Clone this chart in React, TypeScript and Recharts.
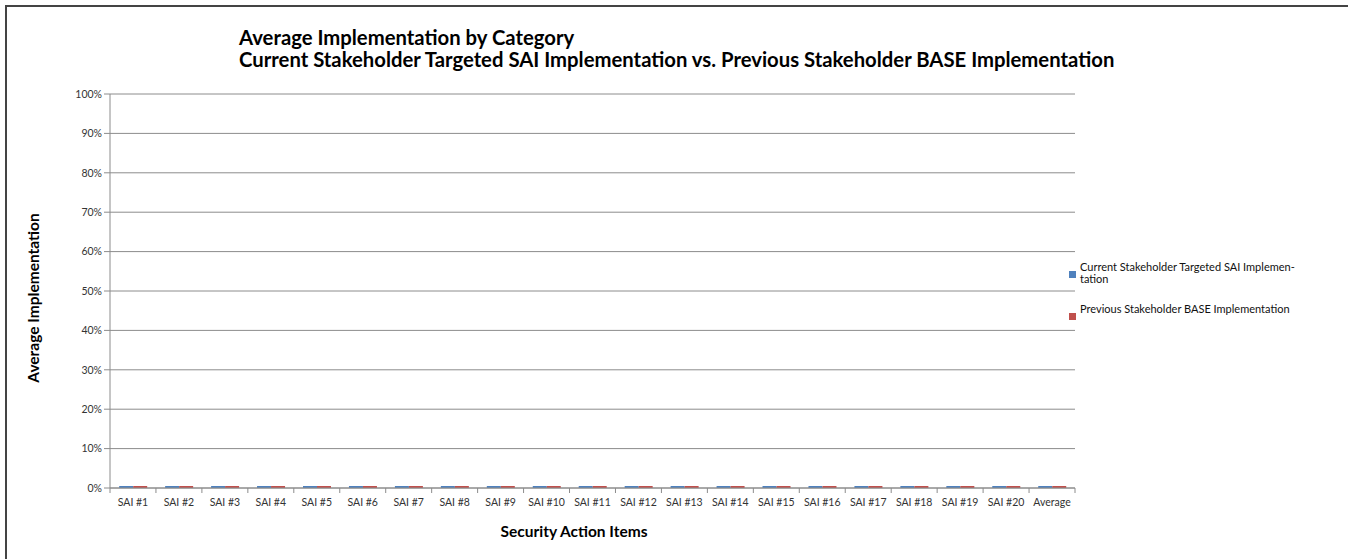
import { BarChart, Bar, XAxis, YAxis, CartesianGrid } from 'recharts';

const categories = [
  'SAI #1', 'SAI #2', 'SAI #3', 'SAI #4', 'SAI #5', 'SAI #6', 'SAI #7',
  'SAI #8', 'SAI #9', 'SAI #10', 'SAI #11', 'SAI #12', 'SAI #13', 'SAI #14',
  'SAI #15', 'SAI #16', 'SAI #17', 'SAI #18', 'SAI #19', 'SAI #20', 'Average',
];
const currentValues = [0, 0, 0, 0, 0, 0, 0, 0, 0, 0, 0, 0, 0, 0, 0, 0, 0, 0, 0, 0, 0];
const previousValues = [0, 0, 0, 0, 0, 0, 0, 0, 0, 0, 0, 0, 0, 0, 0, 0, 0, 0, 0, 0, 0];
const yTicks = [0, 0.1, 0.2, 0.3, 0.4, 0.5, 0.6, 0.7, 0.8, 0.9, 1];
const seriesNames = ['Current Stakeholder Targeted SAI Implementation', 'Previous Stakeholder BASE Implementation'];
const legendLabels = ['Current Stakeholder Targeted SAI Implemen\u00ADtation', 'Previous Stakeholder BASE Implementation'];
const seriesColors = ['#4f81bd', '#c0504d'];

const data = categories.map((name, i) => ({
  name,
  current: currentValues[i],
  previous: previousValues[i],
}));

const FONT = 'Lato, "Open Sans", sans-serif';
const GRID = '#8c8c8c';

function CategoryTick(props: any) {
  const { x, y, payload, index, visibleTicksCount, width } = props;
  const band = width && visibleTicksCount ? width / visibleTicksCount : 45.95;
  const left = x - band / 2;
  const right = x + band / 2;
  return (
    <g>
      <line x1={left} y1={y - 8} x2={left} y2={y - 3} stroke={GRID} />
      {index === visibleTicksCount - 1 && (
        <line x1={right} y1={y - 8} x2={right} y2={y - 3} stroke={GRID} />
      )}
      <text x={x} y={y + 10} textAnchor="middle" fontSize={10.5} fill="#333" fontFamily={FONT}>
        {payload.value}
      </text>
    </g>
  );
}

export default function App() {
  return (
    <div style={{ position: 'absolute', left: 0, top: 0, width: 1348, height: 559, fontFamily: FONT, background: '#fff' }}>
      <div style={{
        position: 'absolute', left: 5, top: 5, width: 1341, height: 560,
        borderTop: '2px solid #444', borderLeft: '2px solid #444', borderRight: '1px solid #aaa',
      }} />
      <div style={{ position: 'absolute', left: 0, top: 0 }}>
        <BarChart
          width={1348}
          height={559}
          data={data}
          margin={{ top: 94, right: 273, bottom: 41, left: 50 }}
          barCategoryGap="20%"
          barGap={0}
        >
          <CartesianGrid vertical={false} stroke={GRID} />
          <XAxis
            dataKey="name"
            axisLine={{ stroke: GRID }}
            tickLine={false}
            tick={<CategoryTick />}
            height={30}
            interval={0}
          />
          <YAxis
            width={60}
            domain={[0, 1]}
            ticks={yTicks}
            tickFormatter={(v: number) => `${Math.round(v * 100)}%`}
            axisLine={{ stroke: GRID }}
            tickLine={{ stroke: GRID }}
            tick={{ fontSize: 10.5, fill: '#333', fontFamily: FONT }}
          />
          <Bar dataKey="current" name={seriesNames[0]} fill={seriesColors[0]} minPointSize={2} isAnimationActive={false} />
          <Bar dataKey="previous" name={seriesNames[1]} fill={seriesColors[1]} minPointSize={2} isAnimationActive={false} />
        </BarChart>
      </div>

      <div style={{ position: 'absolute', left: 239, top: 26, fontSize: 20.3, fontWeight: 700, lineHeight: '22px', color: '#000', whiteSpace: 'nowrap' }}>
        <div>Average Implementation by Category</div>
        <div>Current Stakeholder Targeted SAI Implementation vs. Previous Stakeholder BASE Implementation</div>
      </div>

      <div style={{
        position: 'absolute', left: 33, top: 298, transform: 'translate(-50%, -50%) rotate(-90deg)',
        fontSize: 15.5, fontWeight: 700, whiteSpace: 'nowrap', color: '#000',
      }}>
        Average Implementation
      </div>

      <div style={{
        position: 'absolute', left: 574, top: 531, transform: 'translate(-50%, -50%)',
        fontSize: 15.5, fontWeight: 700, whiteSpace: 'nowrap', color: '#000',
      }}>
        Security Action Items
      </div>

      {legendLabels.map((label, i) => (
        <div key={label} style={{ position: 'absolute', left: 1069, top: i === 0 ? 261 : 303, fontSize: 11, lineHeight: '12px', color: '#111' }}>
          <span style={{ position: 'absolute', left: 0, top: 10, width: 7, height: 7, background: seriesColors[i] }} />
          <div style={{ marginLeft: 11, width: 230 }}>{label}</div>
        </div>
      ))}
    </div>
  );
}
